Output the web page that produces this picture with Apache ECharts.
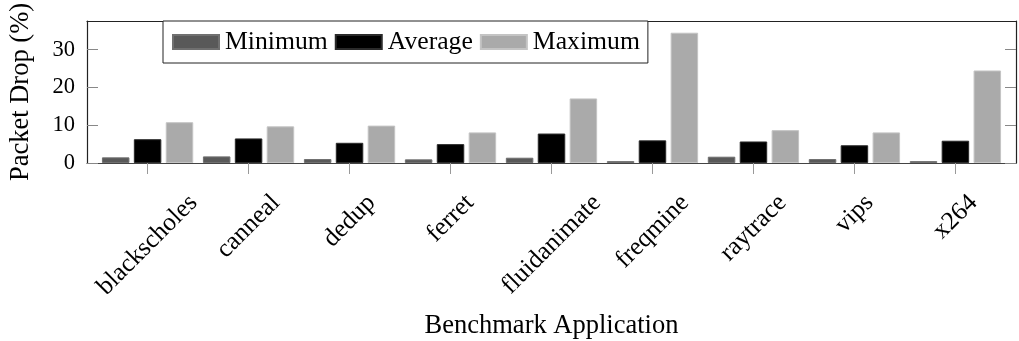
<!DOCTYPE html>
<html>
<head>
<meta charset="utf-8">
<script src="https://cdn.jsdelivr.net/npm/echarts@6/dist/echarts.min.js"></script>
<style>
  html, body { margin: 0; padding: 0; background: #fff; }
  #chart { width: 1019px; height: 341px; }
</style>
</head>
<body>
<div id="chart"></div>
<script>
// Benchmark applications (PARSEC) and packet drop percentages
const categories = ['blackscholes', 'canneal', 'dedup', 'ferret', 'fluidanimate',
                    'freqmine', 'raytrace', 'vips', 'x264'];
const minimum = [1.5, 1.75, 1.05, 0.97, 1.4, 0.5, 1.67, 1.05, 0.5];
const average = [6.3, 6.5, 5.35, 5.0, 7.8, 6.0, 5.7, 4.7, 5.9];
const maximum = [10.8, 9.7, 9.9, 8.1, 17.1, 34.5, 8.7, 8.1, 24.5];
const yTicks = [0, 10, 20, 30];

const FONT = '"Liberation Serif", "Times New Roman", serif';
const LABEL_SIZE = 25.5;

// Category positions on the x value axis
const positions = categories.map((_, i) => i);
const pair = (vals) => vals.map((v, i) => [positions[i], v]);

// Measure each rotated label so it can be centred under its tick
const ctx = document.createElement('canvas').getContext('2d');
ctx.font = LABEL_SIZE + 'px ' + FONT;
const rich = {};
categories.forEach((name, i) => {
  const L = ctx.measureText(name).width;
  rich['c' + i] = {
    fontFamily: FONT, fontSize: LABEL_SIZE, color: '#000',
    padding: [0.5 * L, 0.5 * L, 0, 0]
  };
});

const chart = echarts.init(document.getElementById('chart'), null, { renderer: 'canvas' });

const barStyle = (fill, border) => ({ color: fill, borderColor: border, borderWidth: 1 });

chart.setOption({
  animation: false,
  textStyle: { fontFamily: FONT, color: '#000' },
  grid: { left: 85, right: 3, top: 21, bottom: 177, containLabel: false },
  legend: {
    left: 163, top: 21,
    padding: [8, 8, 8, 9],
    itemGap: 7,
    itemWidth: 46, itemHeight: 14,
    icon: 'rect',
    borderColor: '#222', borderWidth: 1,
    backgroundColor: '#fff',
    textStyle: { fontFamily: FONT, fontSize: 25.7, color: '#000', padding: [0, 0, 0, 1] },
    data: ['Minimum', 'Average', 'Maximum']
  },
  xAxis: [{
    type: 'value',
    min: -0.6, max: 8.6,
    position: 'bottom',
    name: 'Benchmark Application',
    nameLocation: 'middle',
    nameGap: 150,
    nameTextStyle: { fontFamily: FONT, fontSize: 26.5, color: '#000', verticalAlign: 'top' },
    axisLine: { show: true, onZero: false, lineStyle: { color: '#444', width: 1.2 } },
    axisTick: { show: true, inside: false, length: 11, customValues: positions,
                lineStyle: { color: '#999', width: 1 } },
    axisLabel: {
      show: true, customValues: positions,
      rotate: 45, align: 'center', verticalAlign: 'middle',
      margin: 36,
      formatter: (v) => {
        const i = Math.round(v);
        return '{c' + i + '|' + categories[i] + '}';
      },
      rich: rich
    },
    splitLine: { show: false }
  }, {
    type: 'value',
    min: -0.6, max: 8.6,
    position: 'top',
    axisLine: { show: true, onZero: false, lineStyle: { color: '#222', width: 1.2 } },
    axisTick: { show: false },
    axisLabel: { show: false },
    splitLine: { show: false }
  }],
  yAxis: [{
    type: 'value',
    min: 0, max: 37.6,
    position: 'left',
    name: 'Packet Drop (%)',
    nameLocation: 'middle',
    nameRotate: 90,
    nameGap: 52,
    nameTextStyle: { fontFamily: FONT, fontSize: 26.5, color: '#000' },
    axisLine: { show: true, onZero: false, lineStyle: { color: '#222', width: 1.2 } },
    axisTick: { show: true, inside: true, length: 11, customValues: yTicks,
                lineStyle: { color: '#888', width: 1 } },
    axisLabel: { show: true, customValues: yTicks, margin: 12,
                 fontFamily: FONT, fontSize: 22.5, color: '#000' },
    splitLine: { show: false }
  }, {
    type: 'value',
    min: 0, max: 37.6,
    position: 'right',
    axisLine: { show: true, onZero: false, lineStyle: { color: '#222', width: 1.2 } },
    axisTick: { show: true, inside: true, length: 11, customValues: yTicks,
                lineStyle: { color: '#888', width: 1 } },
    axisLabel: { show: false },
    splitLine: { show: false }
  }],
  series: [
    { name: 'Minimum', type: 'bar', xAxisIndex: 0, yAxisIndex: 0,
      barWidth: 27.5, barGap: '16%',
      itemStyle: barStyle('#595959', '#707070'), data: pair(minimum) },
    { name: 'Average', type: 'bar', xAxisIndex: 0, yAxisIndex: 0,
      barWidth: 27.5, barGap: '16%',
      itemStyle: barStyle('#000000', '#2a2a2a'), data: pair(average) },
    { name: 'Maximum', type: 'bar', xAxisIndex: 0, yAxisIndex: 0,
      barWidth: 27.5, barGap: '16%',
      itemStyle: barStyle('#aaaaaa', '#c4c4c4'), data: pair(maximum) }
  ]
});
</script>
</body>
</html>
